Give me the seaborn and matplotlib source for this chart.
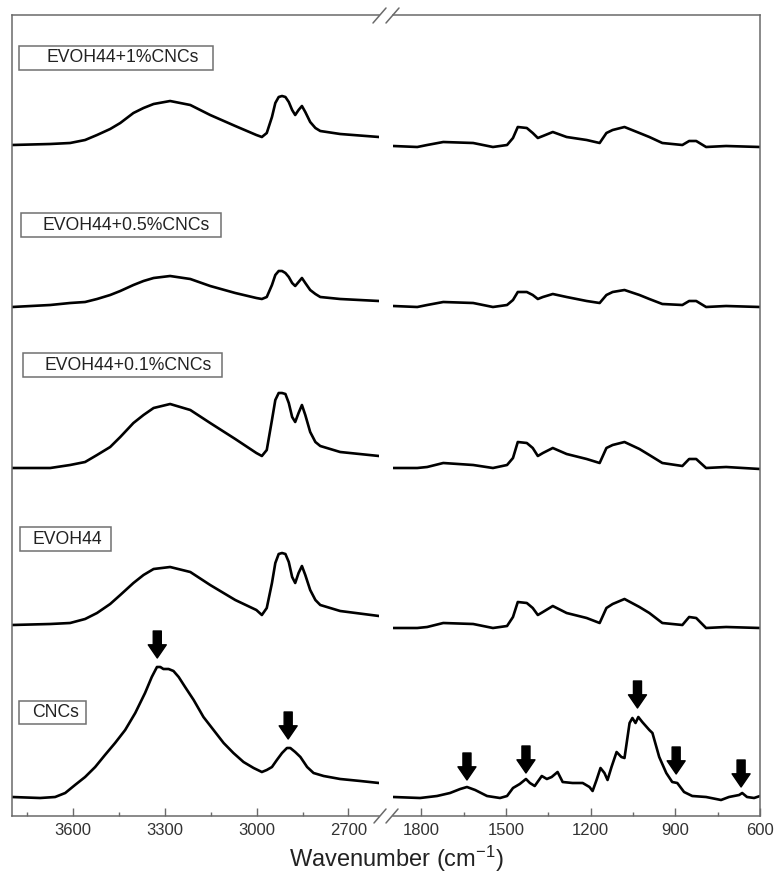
import numpy as np
import pandas as pd
import matplotlib
matplotlib.use("Agg")
import matplotlib.pyplot as plt
from matplotlib.patches import Rectangle
from matplotlib.lines import Line2D
from matplotlib.ticker import MultipleLocator
import seaborn as sns

sns.set_style("ticks")
plt.rcParams['font.family'] = ['Liberation Sans', 'DejaVu Sans']
plt.rcParams['mathtext.fontset'] = 'custom'
plt.rcParams['mathtext.rm'] = 'Liberation Sans'
plt.rcParams['mathtext.it'] = 'Liberation Sans'

# ---- data (stacked absorbance, a.u.) ----
labels = ['EVOH44+1%CNCs', 'EVOH44+0.5%CNCs', 'EVOH44+0.1%CNCs', 'EVOH44', 'CNCs']

# high wavenumber region, EVOH samples
wn_hi = [3800, 3675, 3610, 3561, 3522, 3479, 3446, 3403, 3370, 3337, 3283, 3217, 3152, 3070,
         3001, 2983, 2967, 2950, 2939, 2928, 2917, 2906, 2895, 2884, 2874, 2863, 2852, 2841,
         2825, 2808, 2792, 2727, 2600]
evoh1_hi = [6.71, 6.72, 6.73, 6.76, 6.81, 6.87, 6.93, 7.03, 7.08, 7.12, 7.15, 7.11, 7.01, 6.90,
            6.81, 6.79, 6.83, 6.99, 7.13, 7.19, 7.20, 7.19, 7.14, 7.06, 7.01, 7.06, 7.10, 7.04,
            6.94, 6.88, 6.85, 6.82, 6.79]
evoh05_hi = [5.09, 5.11, 5.13, 5.14, 5.17, 5.21, 5.25, 5.31, 5.35, 5.38, 5.40, 5.37, 5.30, 5.23,
             5.18, 5.17, 5.19, 5.31, 5.41, 5.45, 5.45, 5.43, 5.39, 5.33, 5.30, 5.34, 5.38, 5.33,
             5.26, 5.22, 5.19, 5.17, 5.15]
evoh01_hi = [3.48, 3.48, 3.51, 3.54, 3.61, 3.69, 3.79, 3.93, 4.01, 4.08, 4.12, 4.06, 3.93, 3.77,
             3.63, 3.60, 3.66, 3.96, 4.16, 4.23, 4.23, 4.22, 4.13, 3.99, 3.94, 4.03, 4.11, 4.01,
             3.84, 3.74, 3.70, 3.64, 3.60]
evoh_hi = [1.91, 1.92, 1.93, 1.97, 2.03, 2.12, 2.21, 2.33, 2.41, 2.47, 2.49, 2.44, 2.31, 2.16,
           2.06, 2.01, 2.08, 2.33, 2.53, 2.62, 2.63, 2.62, 2.54, 2.39, 2.33, 2.43, 2.50, 2.41,
           2.26, 2.16, 2.11, 2.05, 2.00]

# low wavenumber region, EVOH samples
wn_lo = [1899, 1814, 1779, 1722, 1616, 1546, 1496, 1475, 1458, 1426, 1405, 1387, 1369,
         1334, 1285, 1214, 1168, 1144, 1122, 1080, 1027, 992, 946, 875, 851, 826, 791, 720, 600]
evoh1_lo = [6.70, 6.69, 6.71, 6.74, 6.73, 6.69, 6.71, 6.78, 6.89, 6.88, 6.83, 6.78, 6.80,
            6.84, 6.79, 6.76, 6.73, 6.83, 6.86, 6.89, 6.83, 6.79, 6.73, 6.71, 6.75, 6.75, 6.69, 6.70, 6.69]
evoh05_lo = [5.10, 5.09, 5.11, 5.14, 5.13, 5.09, 5.11, 5.16, 5.24, 5.24, 5.21, 5.17, 5.19,
             5.22, 5.19, 5.15, 5.13, 5.21, 5.24, 5.26, 5.21, 5.17, 5.12, 5.11, 5.15, 5.15, 5.09, 5.10, 5.09]
evoh01_lo = [3.48, 3.48, 3.49, 3.53, 3.51, 3.48, 3.51, 3.58, 3.74, 3.73, 3.68, 3.60, 3.63,
             3.68, 3.62, 3.57, 3.53, 3.68, 3.71, 3.74, 3.67, 3.61, 3.53, 3.50, 3.57, 3.57, 3.48, 3.49, 3.47]
evoh_lo = [1.88, 1.88, 1.89, 1.93, 1.92, 1.88, 1.90, 1.99, 2.14, 2.13, 2.08, 2.01, 2.04,
           2.10, 2.03, 1.98, 1.93, 2.08, 2.12, 2.17, 2.09, 2.03, 1.93, 1.91, 1.99, 1.98, 1.88, 1.89, 1.88]

# CNCs
wn_cnc_hi = [3800, 3708, 3659, 3626, 3594, 3561, 3528, 3496, 3463, 3430, 3397, 3365, 3343, 3326,
             3315, 3305, 3288, 3272, 3255, 3234, 3206, 3174, 3141, 3108, 3076, 3043, 3010, 2983,
             2967, 2950, 2934, 2917, 2901, 2890, 2874, 2857, 2835, 2814, 2781, 2727, 2661, 2600]
cnc_hi = [0.19, 0.18, 0.19, 0.23, 0.31, 0.39, 0.49, 0.61, 0.73, 0.86, 1.03, 1.23, 1.39, 1.49,
          1.49, 1.47, 1.47, 1.45, 1.39, 1.29, 1.16, 0.99, 0.86, 0.73, 0.63, 0.54, 0.48, 0.44,
          0.46, 0.49, 0.56, 0.63, 0.68, 0.68, 0.64, 0.59, 0.49, 0.43, 0.40, 0.37, 0.35, 0.33]
wn_cnc_lo = [1899, 1804, 1744, 1698, 1662, 1638, 1609, 1567, 1521, 1496, 1475, 1451, 1429, 1415,
             1398, 1373, 1355, 1338, 1317, 1299, 1264, 1228, 1204, 1193, 1179, 1165, 1151, 1140,
             1126, 1108, 1091, 1080, 1062, 1052, 1041, 1031, 1017, 992, 981, 957, 932, 911, 893,
             869, 840, 791, 738, 710, 674, 663, 646, 621, 600]
cnc_lo = [0.19, 0.18, 0.20, 0.23, 0.27, 0.29, 0.26, 0.20, 0.18, 0.20, 0.28, 0.32, 0.37, 0.33,
          0.30, 0.40, 0.37, 0.39, 0.44, 0.34, 0.33, 0.33, 0.29, 0.25, 0.36, 0.48, 0.43, 0.36,
          0.49, 0.64, 0.59, 0.58, 0.93, 0.98, 0.93, 0.99, 0.94, 0.86, 0.83, 0.59, 0.43, 0.34, 0.33,
          0.24, 0.20, 0.19, 0.16, 0.19, 0.21, 0.23, 0.19, 0.18, 0.20]

# CNCs band markers (wavenumber, absorbance at arrow tip)
arrow_hi_wn = [3325, 2897]
arrow_hi_y = [1.58, 0.77]
arrow_lo_wn = [1638, 1429, 1034, 897, 667]
arrow_lo_y = [0.36, 0.43, 1.08, 0.42, 0.29]

W, H = 776, 875
fig = plt.figure(figsize=(W / 100, H / 100), dpi=100)
ax_l = fig.add_axes([12 / W, 59 / H, 367 / W, 801 / H])
ax_r = fig.add_axes([393 / W, 59 / H, 367 / W, 801 / H])

spine_c = '#6a6a6a'
hi_series = [(wn_hi, evoh1_hi), (wn_hi, evoh05_hi), (wn_hi, evoh01_hi), (wn_hi, evoh_hi), (wn_cnc_hi, cnc_hi)]
lo_series = [(wn_lo, evoh1_lo), (wn_lo, evoh05_lo), (wn_lo, evoh01_lo), (wn_lo, evoh_lo), (wn_cnc_lo, cnc_lo)]

for ax, series in [(ax_l, hi_series), (ax_r, lo_series)]:
    for (x, y), lab in zip(series, labels):
        df = pd.DataFrame({'wn': x, 'A': y})
        sns.lineplot(data=df, x='wn', y='A', ax=ax, color='black', lw=1.9,
                     estimator=None, sort=False, legend=False)
    for ln in ax.lines:
        ln.set_solid_joinstyle('round')
    ax.set_ylim(0, 8.01)
    ax.set_yticks([])
    ax.set_xlabel('')
    ax.set_ylabel('')
    ax.xaxis.set_major_locator(MultipleLocator(300))
    ax.xaxis.set_minor_locator(MultipleLocator(150))
    ax.tick_params(axis='x', which='major', direction='in', length=6, width=1,
                   color=spine_c, labelsize=12, pad=5, labelcolor='#333333')
    ax.tick_params(axis='x', which='minor', direction='in', length=3, width=1, color=spine_c)
    for s in ax.spines.values():
        s.set_color(spine_c)
        s.set_linewidth(1.1)

ax_l.set_xlim(3800, 2600)
ax_r.set_xlim(1900, 600)
ax_l.spines['right'].set_visible(False)
ax_r.spines['left'].set_visible(False)
ax_r.tick_params(axis='y', left=False)

arrow_kw = dict(arrowstyle='simple,head_width=1.3,head_length=0.95,tail_width=0.58',
                fc='black', ec='black', shrinkA=0, shrinkB=0, mutation_scale=10)
for ax, xs, ys in [(ax_l, arrow_hi_wn, arrow_hi_y), (ax_r, arrow_lo_wn, arrow_lo_y)]:
    for xw, yt in zip(xs, ys):
        ax.annotate('', xy=(xw, yt), xytext=(xw, yt + 0.27), arrowprops=arrow_kw)

# label boxes, pixel layout: box left, top, right, bottom, text left
boxes = [(19, 46, 213, 70, 47), (21, 213, 221, 237, 42), (23, 353, 222, 377, 44),
         (20, 527, 111, 551, 33), (19, 701, 86, 724, 32)]


def fx(px):
    return px / W


def fy(py):
    return 1 - py / H


for lab, (x0, y0, x1, y1, tx) in zip(labels, boxes):
    fig.add_artist(Rectangle((fx(x0), fy(y1)), fx(x1) - fx(x0), fy(y0) - fy(y1),
                             transform=fig.transFigure, fill=False, ec='#707070', lw=1.1))
    fig.text(fx(tx), fy((y0 + y1) / 2), lab, fontsize=12.7, ha='left', va='center',
             color='#222222')

# axis break marks
for px0, py0, px1, py1 in [(373, 23, 386, 8), (386, 23, 399, 8),
                           (374, 823, 386, 809), (386, 823, 398, 809)]:
    fig.add_artist(Line2D([fx(px0), fx(px1)], [fy(py0), fy(py1)], transform=fig.transFigure,
                          color=spine_c, lw=1.1))

fig.text(fx(396), fy(867), 'Wavenumber (cm$^{-1}$)', fontsize=17, ha='center', va='baseline',
         color='#222222')

fig.savefig('out.png', dpi=100)
